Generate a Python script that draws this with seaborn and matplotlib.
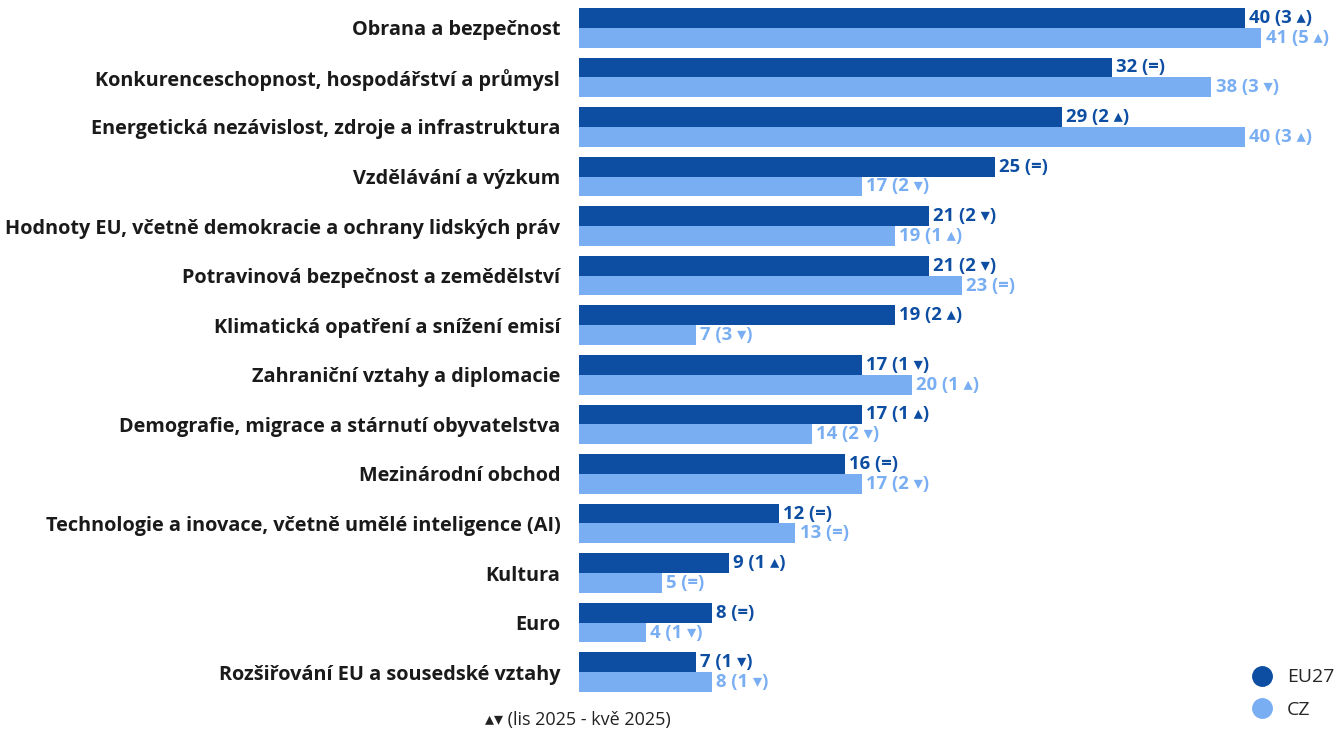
import matplotlib
matplotlib.use("Agg")
import matplotlib.pyplot as plt
from matplotlib.lines import Line2D
import seaborn as sns
import pandas as pd

categories = [
    "Obrana a bezpečnost",
    "Konkurenceschopnost, hospodářství a průmysl",
    "Energetická nezávislost, zdroje a infrastruktura",
    "Vzdělávání a výzkum",
    "Hodnoty EU, včetně demokracie a ochrany lidských práv",
    "Potravinová bezpečnost a zemědělství",
    "Klimatická opatření a snížení emisí",
    "Zahraniční vztahy a diplomacie",
    "Demografie, migrace a stárnutí obyvatelstva",
    "Mezinárodní obchod",
    "Technologie a inovace, včetně umělé inteligence (AI)",
    "Kultura",
    "Euro",
    "Rozšiřování EU a sousedské vztahy",
]
eu27 = [40, 32, 29, 25, 21, 21, 19, 17, 17, 16, 12, 9, 8, 7]
eu27_change = ["3 ▴", "=", "2 ▴", "=", "2 ▾", "2 ▾", "2 ▴", "1 ▾", "1 ▴", "=", "=", "1 ▴", "=", "1 ▾"]
cz = [41, 38, 40, 17, 19, 23, 7, 20, 14, 17, 13, 5, 4, 8]
cz_change = ["5 ▴", "3 ▾", "3 ▴", "2 ▾", "1 ▴", "=", "3 ▾", "1 ▴", "2 ▾", "2 ▾", "=", "=", "1 ▾", "1 ▾"]

dark = "#0d4ea3"
light = "#79aef2"
fonts = ["Open Sans", "DejaVu Sans"]

df = pd.DataFrame({
    "cat": categories * 2,
    "val": eu27 + cz,
    "grp": ["EU27"] * len(eu27) + ["CZ"] * len(cz),
})

sns.set_style("white")
plt.rcParams["font.family"] = fonts

fig = plt.figure(figsize=(13.36, 7.30), dpi=100)
ax = fig.add_axes([579 / 1336, 1 - 692 / 730, 749 / 1336, 684 / 730])

sns.barplot(data=df, y="cat", x="val", hue="grp", orient="h",
            palette={"EU27": dark, "CZ": light}, width=0.8, saturation=1,
            linewidth=0, legend=False, ax=ax)

labels = [
    [f"{v} ({c})" for v, c in zip(eu27, eu27_change)],
    [f"{v} ({c})" for v, c in zip(cz, cz_change)],
]
for cont, labs, col in zip(ax.containers, labels, [dark, light]):
    ax.bar_label(cont, labels=labs, padding=3, color=col, fontsize=13.3,
                 fontweight="bold", family=fonts)

ax.set_xlim(0, 45)
ax.set_ylim(13.4, -0.4)
ax.set_xlabel("")
ax.set_ylabel("")
ax.set_xticks([])
ax.tick_params(axis="y", length=0, pad=13.5)
for lab in ax.get_yticklabels():
    lab.set_fontsize(14.3)
    lab.set_fontweight("bold")
    lab.set_color("#1a1a1a")
sns.despine(ax=ax, left=True, bottom=True)

handles = [
    Line2D([], [], marker="o", linestyle="", markersize=14, color=dark, label="EU27"),
    Line2D([], [], marker="o", linestyle="", markersize=14, color=light, label="CZ"),
]
fig.legend(handles=handles, loc="lower right", bbox_to_anchor=(1.012, -0.009),
           frameon=False, fontsize=14, handletextpad=0.3, labelspacing=0.75)

fig.text(578 / 1336, 1 - 720 / 730, "▴▾ (lis 2025 - kvě 2025)", ha="center", va="center",
         fontsize=13, color="#222222", family=fonts)

fig.savefig("out.png", dpi=100)
